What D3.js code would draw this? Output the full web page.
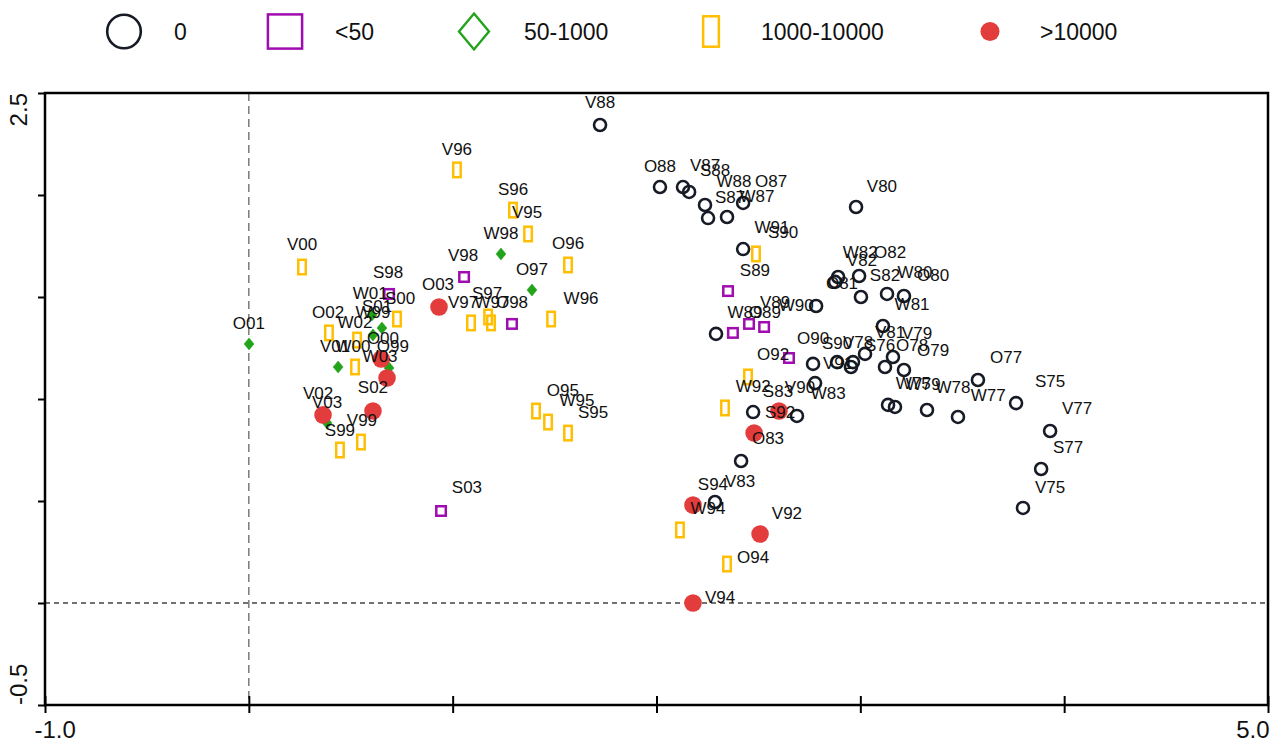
<!DOCTYPE html>
<html>
<head>
<meta charset="utf-8">
<script src="https://d3js.org/d3.v7.min.js"></script>
<style>
  body { margin: 0; background: #fff; }
  text { font-family: "Liberation Sans", Arial, sans-serif; fill: #111; }
</style>
</head>
<body>
<svg id="chart" width="1280" height="745"></svg>
<script>
// groups: 0 = "0", 1 = "<50", 2 = "50-1000", 3 = "1000-10000", 4 = ">10000"
const groupNames = ["0", "<50", "50-1000", "1000-10000", ">10000"];
const groupColors = ["#161b26", "#a00cb0", "#22a31a", "#ffbf00", "#e23c3c"];

// markers: [x, y] per group
const circles0 = [
  [1.723, 2.343], [2.017, 2.039], [2.130, 2.039], [2.160, 2.015], [2.238, 1.951],
  [2.253, 1.887], [2.346, 1.892], [2.425, 1.961], [2.425, 1.735], [2.292, 1.319],
  [2.783, 1.456], [2.979, 1.941], [2.891, 1.598], [2.876, 1.574], [2.994, 1.603],
  [3.003, 1.500], [3.131, 1.515], [3.214, 1.505], [3.111, 1.358], [3.023, 1.221],
  [3.160, 1.206], [3.121, 1.157], [3.214, 1.142], [2.768, 1.172], [2.886, 1.181],
  [2.954, 1.157], [2.964, 1.181], [2.778, 1.078], [2.474, 0.936], [2.689, 0.917],
  [2.415, 0.696], [2.287, 0.495], [3.136, 0.971], [3.170, 0.961], [3.327, 0.946],
  [3.479, 0.912], [3.577, 1.093], [3.764, 0.980], [3.931, 0.843], [3.887, 0.657],
  [3.798, 0.466]
];
const under50 = [
  [0.688, 1.515], [1.056, 1.598], [1.291, 1.368], [0.943, 0.451], [2.351, 1.529],
  [2.375, 1.324], [2.454, 1.368], [2.528, 1.353], [2.650, 1.201]
];
const from50 = [
  [0.001, 1.270], [0.604, 1.412], [0.653, 1.348], [0.609, 1.314], [0.438, 1.157],
  [0.688, 1.152], [0.384, 0.882], [1.237, 1.711], [1.389, 1.534]
];
const from1000 = [
  [0.261, 1.647], [0.727, 1.392], [0.393, 1.324], [0.531, 1.289], [0.521, 1.157],
  [0.447, 0.750], [0.550, 0.789], [1.021, 2.123], [1.296, 1.926], [1.370, 1.809],
  [1.566, 1.657], [1.483, 1.392], [1.090, 1.373], [1.174, 1.402], [1.188, 1.373],
  [1.409, 0.941], [1.468, 0.887], [1.566, 0.833], [2.488, 1.711], [2.449, 1.108],
  [2.336, 0.956], [2.115, 0.358], [2.346, 0.191]
];
const over10000 = [
  [0.933, 1.451], [0.649, 1.196], [0.678, 1.103], [0.609, 0.941], [0.364, 0.922],
  [2.601, 0.941], [2.479, 0.833], [2.179, 0.480], [2.508, 0.338], [2.179, 0.000]
];

// point labels: [text, x, y]
const labels = [
  ["O01", 0.00, 1.368], ["V00", 0.261, 1.755], ["S98", 0.683, 1.618], ["W01", 0.595, 1.515],
  ["S00", 0.742, 1.495], ["S01", 0.629, 1.451], ["W99", 0.609, 1.422], ["O02", 0.389, 1.426],
  ["W02", 0.521, 1.377], ["O00", 0.658, 1.299], ["V01", 0.423, 1.255], ["W00", 0.511, 1.255],
  ["O99", 0.707, 1.255], ["W03", 0.644, 1.206], ["V02", 0.340, 1.029], ["V03", 0.384, 0.985],
  ["S02", 0.609, 1.054], ["V99", 0.555, 0.897], ["S99", 0.447, 0.848], ["O03", 0.928, 1.559],
  ["V96", 1.021, 2.225], ["S96", 1.296, 2.029], ["V95", 1.365, 1.912], ["W98", 1.237, 1.809],
  ["O96", 1.566, 1.760], ["V98", 1.051, 1.701], ["O97", 1.389, 1.637], ["W96", 1.630, 1.495],
  ["V97", 1.051, 1.471], ["S97", 1.169, 1.515], ["W97", 1.193, 1.471], ["O98", 1.291, 1.471],
  ["O95", 1.541, 1.044], ["W95", 1.610, 0.995], ["S95", 1.689, 0.936], ["S03", 1.070, 0.564],
  ["V88", 1.723, 2.451], ["O88", 2.017, 2.142], ["V87", 2.238, 2.147], ["S88", 2.287, 2.118],
  ["W88", 2.380, 2.064], ["O87", 2.562, 2.064], ["S87", 2.361, 1.990], ["W87", 2.493, 1.995],
  ["W91", 2.567, 1.843], ["S90", 2.621, 1.814], ["S89", 2.483, 1.632], ["V89", 2.582, 1.475],
  ["W89", 2.434, 1.426], ["O89", 2.532, 1.426], ["W90", 2.685, 1.456], ["V80", 3.106, 2.044],
  ["W82", 2.999, 1.716], ["V82", 3.008, 1.681], ["O82", 3.146, 1.716], ["S82", 3.121, 1.603],
  ["W80", 3.268, 1.618], ["O80", 3.357, 1.603], ["O81", 2.910, 1.564], ["W81", 3.254, 1.461],
  ["V81", 3.146, 1.324], ["V79", 3.278, 1.319], ["O90", 2.768, 1.299], ["S90", 2.886, 1.270],
  ["V78", 2.989, 1.279], ["S76", 3.097, 1.260], ["O78", 3.254, 1.260], ["O79", 3.357, 1.240],
  ["V91", 2.891, 1.176], ["O92", 2.572, 1.216], ["W92", 2.474, 1.059], ["S83", 2.596, 1.039],
  ["V90", 2.704, 1.054], ["W83", 2.842, 1.029], ["W75", 3.259, 1.078], ["W79", 3.308, 1.069],
  ["W78", 3.455, 1.054], ["O77", 3.715, 1.201], ["W77", 3.627, 1.015], ["S75", 3.931, 1.088],
  ["V77", 4.063, 0.951], ["S77", 4.019, 0.760], ["V75", 3.931, 0.564], ["S92", 2.606, 0.936],
  ["O83", 2.547, 0.804], ["S94", 2.277, 0.583], ["V83", 2.410, 0.598], ["W94", 2.253, 0.461],
  ["V92", 2.640, 0.441], ["O94", 2.474, 0.221], ["V94", 2.312, 0.025]
];

const xTicks = [-1, 0, 1, 2, 3, 4, 5];
const yTicks = [-0.5, 0, 0.5, 1, 1.5, 2, 2.5];
const xTickLabels = { "-1": "-1.0", "5": "5.0" };
const yTickLabels = { "-0.5": "-0.5", "2.5": "2.5" };

const groups = [circles0, under50, from50, from1000, over10000];
const points = [];
groups.forEach((g, i) => g.forEach(d => points.push({ x: d[0], y: d[1], g: i })));

const svg = d3.select("#chart");
const x = d3.scaleLinear().domain([-1, 5]).range([45, 1268]);
const y = d3.scaleLinear().domain([-0.5, 2.5]).range([705, 93]);

// draws one marker of group g at 0,0; k scales the size (legend is larger)
function marker(sel, g, k) {
  const c = groupColors[g];
  if (g === 0) {
    sel.append("circle").attr("r", 6 * k).attr("fill", "none")
      .attr("stroke", c).attr("stroke-width", 2.6);
  } else if (g === 1) {
    const s = 9.5 * k;
    sel.append("rect").attr("x", -s / 2).attr("y", -s / 2).attr("width", s).attr("height", s)
      .attr("fill", "none").attr("stroke", c).attr("stroke-width", 2.5);
  } else if (g === 2) {
    const w = 5 * k, h = 6 * k;
    sel.append("path").attr("d", `M0,${-h}L${w},0L0,${h}L${-w},0Z`)
      .attr("fill", k > 1 ? "none" : c).attr("stroke", c).attr("stroke-width", k > 1 ? 2.4 : 0.5);
  } else if (g === 3) {
    const w = 7.5 * k, h = 14.5 * k;
    sel.append("rect").attr("x", -w / 2).attr("y", -h / 2).attr("width", w).attr("height", h)
      .attr("fill", "none").attr("stroke", c).attr("stroke-width", 2.5);
  } else {
    sel.append("circle").attr("r", 8.8 * k).attr("fill", c);
  }
}

// reference lines
svg.append("line")
  .attr("x1", x(0)).attr("x2", x(0)).attr("y1", y(2.5)).attr("y2", y(-0.5))
  .attr("stroke", "#666").attr("stroke-width", 1.3).attr("stroke-dasharray", "8,5");
svg.append("line")
  .attr("x1", x(-1)).attr("x2", x(5)).attr("y1", y(0)).attr("y2", y(0))
  .attr("stroke", "#444").attr("stroke-width", 1.3).attr("stroke-dasharray", "5,4");

// markers
const pts = svg.append("g");
points.forEach(d => {
  const g = pts.append("g").attr("transform", `translate(${x(d.x)},${y(d.y)})`);
  marker(g, d.g, 1);
});

// labels
svg.append("g").selectAll("text").data(labels).join("text")
  .attr("x", d => x(d[1])).attr("y", d => y(d[2]))
  .attr("text-anchor", "middle").attr("dominant-baseline", "central")
  .attr("font-size", 17).text(d => d[0]);

// frame
svg.append("rect").attr("x", 45).attr("y", 93).attr("width", 1223).attr("height", 612)
  .attr("fill", "none").attr("stroke", "#000").attr("stroke-width", 2.5);

// axes
const bottomAxis = d3.axisBottom(x).tickValues(xTicks).tickSizeInner(8).tickSizeOuter(0)
  .tickFormat(d => xTickLabels[d] || "");
const gx = svg.append("g").attr("transform", `translate(0,${y(-0.5)})`).call(bottomAxis);
gx.select(".domain").remove();
gx.selectAll(".tick line").attr("y1", -9).attr("y2", 8).attr("stroke-width", 2);
gx.selectAll(".tick text").attr("font-size", 24).attr("font-family", "Liberation Sans, Arial")
  .attr("fill", "#111").attr("dy", "0.9em")
  .attr("text-anchor", d => d === 5 ? "end" : "start")
  .attr("dx", d => d === 5 ? 1 : -11);

const leftAxis = d3.axisLeft(y).tickValues(yTicks).tickSizeInner(7).tickSizeOuter(0)
  .tickFormat("");
const gy = svg.append("g").attr("transform", `translate(${x(-1)},0)`).call(leftAxis);
gy.select(".domain").remove();
gy.selectAll(".tick line").attr("stroke-width", 2);

svg.append("g").selectAll("text").data(yTicks.filter(d => yTickLabels[d])).join("text")
  .attr("transform", d => `translate(27,${y(d)}) rotate(-90)`)
  .attr("text-anchor", d => d === 2.5 ? "end" : "start")
  .attr("font-size", 24).text(d => yTickLabels[d]);

// legend
const legendX = [124, 285, 474, 711, 990];
const legendScale = [2.8, 3.6, 3, 2.1, 1.08];
const legend = svg.append("g");
groupNames.forEach((name, i) => {
  const g = legend.append("g").attr("transform", `translate(${legendX[i]},31.5)`);
  marker(g, i, legendScale[i]);
  g.append("text").attr("x", 50).attr("y", 0).attr("dominant-baseline", "central")
    .attr("font-size", 23).text(name);
});
</script>
</body>
</html>
